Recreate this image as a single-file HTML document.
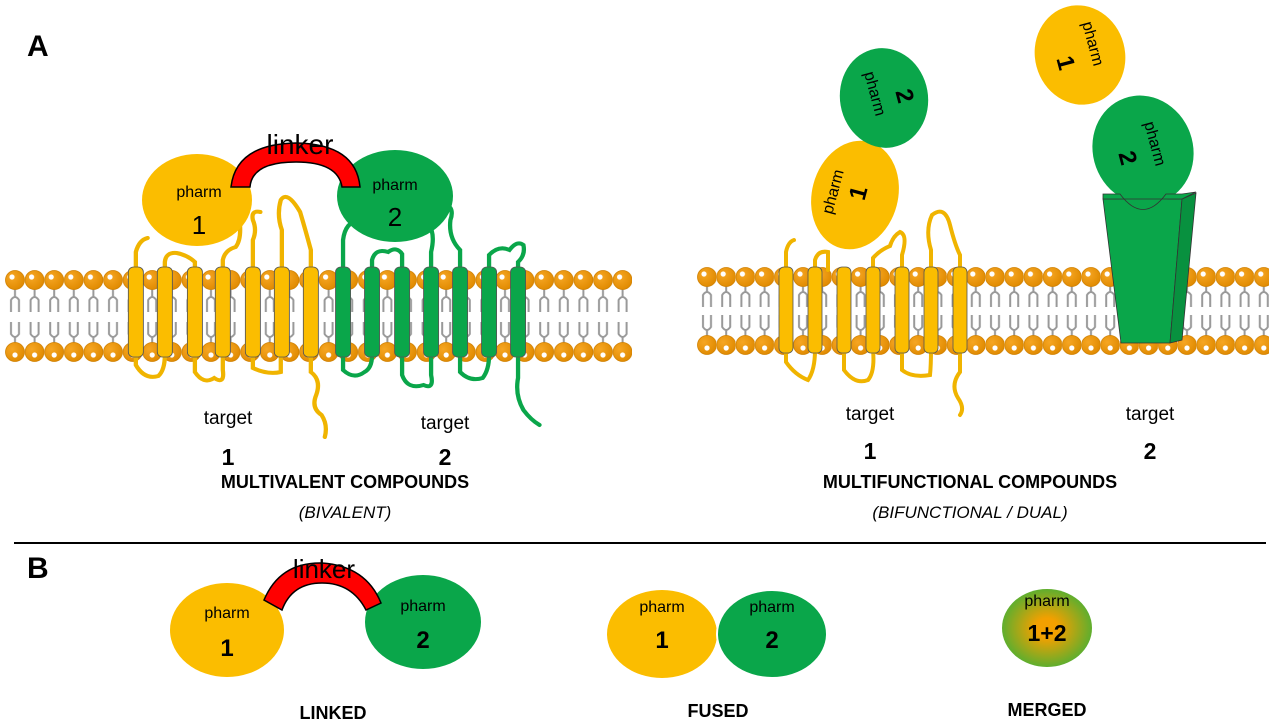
<!DOCTYPE html>
<html><head><meta charset="utf-8"><style>
html,body{margin:0;padding:0;background:#fff;}
svg{display:block;font-family:"Liberation Sans",sans-serif;}
</style></head><body>
<svg width="1273" height="727" viewBox="0 0 1273 727" xmlns="http://www.w3.org/2000/svg">
<defs>
<radialGradient id="ball" cx="0.35" cy="0.35" r="0.7"><stop offset="0" stop-color="#f6a623"/><stop offset="1" stop-color="#e08a00"/></radialGradient>
<pattern id="memL" patternUnits="userSpaceOnUse" x="5" y="268" width="19.6" height="96">
<g fill="none" stroke="#999" stroke-width="2">
<path d="M10 20 V30 M6 44 V32 Q10 26 14 32 V44 M6 54 V66 Q10 72 14 66 V54 M10 68 V76"/>
</g>
<circle cx="10" cy="12" r="9.5" fill="url(#ball)" stroke="#d08000" stroke-width="0.8"/>
<circle cx="7" cy="9" r="2.6" fill="#fff"/>
<circle cx="10" cy="84" r="9.5" fill="url(#ball)" stroke="#d08000" stroke-width="0.8"/>
<circle cx="10" cy="87" r="2.6" fill="#fff"/>
</pattern>
<pattern id="memR" patternUnits="userSpaceOnUse" x="697" y="265" width="19.2" height="92">
<g fill="none" stroke="#999" stroke-width="2">
<path d="M10 20 V28 M6 42 V30 Q10 24 14 30 V42 M6 50 V62 Q10 68 14 62 V50 M10 64 V72"/>
</g>
<circle cx="10" cy="12" r="9.5" fill="url(#ball)" stroke="#d08000" stroke-width="0.8"/>
<circle cx="7" cy="9" r="2.6" fill="#fff"/>
<circle cx="10" cy="80" r="9.5" fill="url(#ball)" stroke="#d08000" stroke-width="0.8"/>
<circle cx="10" cy="83" r="2.6" fill="#fff"/>
</pattern>
<radialGradient id="merge" cx="0.5" cy="0.5" r="0.5"><stop offset="0.25" stop-color="#f3a000"/><stop offset="1" stop-color="#5fae2e"/></radialGradient>
</defs>

<text x="27" y="56" font-size="30" font-weight="bold">A</text>
<text x="27" y="578" font-size="30" font-weight="bold">B</text>
<line x1="14" y1="543" x2="1266" y2="543" stroke="#000" stroke-width="2"/>

<!-- left membrane -->
<rect x="5" y="268" width="627" height="96" fill="url(#memL)"/>
<g transform="matrix(1.0736,0,0,1,-0.5,0)">
<g fill="none" stroke="#f0b400" stroke-width="4" stroke-linecap="round">
<path d="M127 270 V252 Q130 240 138 238"/>
<path d="M154 270 V262 Q155 252 165 253 Q175 255 182 262 V270"/>
<path d="M208 270 V260 Q210 250 220 247 Q225 240 224 225"/>
<path d="M236 270 V240 Q240 230 236 220 Q234 210 243 212"/>
<path d="M263 270 V230 Q258 215 262 200 Q268 190 280 212 Q285 230 290 250 V270"/>
<path d="M127 355 V365 Q135 380 148 376 Q154 370 154 355"/>
<path d="M182 355 V372 Q190 385 200 378 Q210 385 208 370 V355"/>
<path d="M236 355 V368 Q250 375 262 372 V355"/>
<path d="M290 355 V372 Q300 380 295 395 Q290 408 300 415 Q306 425 303 437"/>
</g>
<g fill="none" stroke="#0aa64a" stroke-width="4" stroke-linecap="round">
<path d="M320 270 V240 Q322 222 335 220 Q345 212 350 212"/>
<path d="M347 270 V260 Q350 248 362 252 Q370 246 375 254 V270"/>
<path d="M402 270 V252 Q406 234 400 225 Q392 210 410 202 Q425 205 420 220 Q418 238 429 250 V270"/>
<path d="M456 270 V255 Q465 245 475 250 Q482 240 488 245 Q490 255 483 262 V270"/>
<path d="M320 355 V370 Q330 380 340 372 Q347 368 347 355"/>
<path d="M375 355 V375 Q380 390 395 385 Q405 390 402 375 V355"/>
<path d="M429 355 V372 Q438 382 450 378 Q456 370 456 355"/>
<path d="M483 355 V378 Q480 395 488 410 Q495 420 503 425"/>
</g>
<g stroke="#555" stroke-width="0.8">
<rect x="120" y="267" width="14" height="90" rx="5" fill="#fbbd00"/>
<rect x="147" y="267" width="14" height="90" rx="5" fill="#fbbd00"/>
<rect x="175" y="267" width="14" height="90" rx="5" fill="#fbbd00"/>
<rect x="201" y="267" width="14" height="90" rx="5" fill="#fbbd00"/>
<rect x="229" y="267" width="14" height="90" rx="5" fill="#fbbd00"/>
<rect x="256" y="267" width="14" height="90" rx="5" fill="#fbbd00"/>
<rect x="283" y="267" width="14" height="90" rx="5" fill="#fbbd00"/>
<rect x="313" y="267" width="14" height="90" rx="5" fill="#0aa64a"/>
<rect x="340" y="267" width="14" height="90" rx="5" fill="#0aa64a"/>
<rect x="368" y="267" width="14" height="90" rx="5" fill="#0aa64a"/>
<rect x="395" y="267" width="14" height="90" rx="5" fill="#0aa64a"/>
<rect x="422" y="267" width="14" height="90" rx="5" fill="#0aa64a"/>
<rect x="449" y="267" width="14" height="90" rx="5" fill="#0aa64a"/>
<rect x="476" y="267" width="14" height="90" rx="5" fill="#0aa64a"/>
</g>
</g>
<!-- left pharm + linker -->
<ellipse cx="197" cy="200" rx="55" ry="46" fill="#fbbd00"/>
<ellipse cx="395" cy="196" rx="58" ry="46" fill="#0aa64a"/>
<path d="M231 187 Q236 144 296 143 Q356 144 360 187 L342 187 Q338 162 296 162 Q252 162 250 187 Z" fill="#f00" stroke="#000" stroke-width="1.5"/>
<text x="300" y="154" font-size="28" text-anchor="middle">linker</text>
<text x="199" y="197" font-size="16" text-anchor="middle">pharm</text>
<text x="199" y="234" font-size="26" text-anchor="middle">1</text>
<text x="395" y="190" font-size="16" text-anchor="middle">pharm</text>
<text x="395" y="226" font-size="26" text-anchor="middle">2</text>
<text x="228" y="424" font-size="19" text-anchor="middle">target</text>
<text x="445" y="429" font-size="19" text-anchor="middle">target</text>
<text x="228" y="465" font-size="23" font-weight="bold" text-anchor="middle">1</text>
<text x="445" y="465" font-size="23" font-weight="bold" text-anchor="middle">2</text>
<text x="345" y="488" font-size="18" font-weight="bold" text-anchor="middle">MULTIVALENT COMPOUNDS</text>
<text x="345" y="518" font-size="17" font-style="italic" text-anchor="middle">(BIVALENT)</text>

<!-- right membrane -->
<rect x="697" y="265" width="572" height="92" fill="url(#memR)"/>
<g fill="none" stroke="#f0b400" stroke-width="4" stroke-linecap="round">
<path d="M786 270 V252 Q788 242 794 240"/>
<path d="M815 270 V260 Q818 250 828 252 V270"/>
<path d="M873 270 V258 Q880 250 890 246 Q893 236 900 232 Q908 235 902 255 V270"/>
<path d="M931 270 V250 Q925 230 932 215 Q945 205 950 225 Q955 245 960 255 V270"/>
<path d="M786 350 V362 Q795 375 808 380 Q815 370 815 350"/>
<path d="M844 350 V370 Q855 385 868 380 Q875 372 873 350"/>
<path d="M902 350 V370 Q912 378 930 375 Q931 365 931 350"/>
<path d="M960 350 V372 Q950 385 958 398 Q965 408 960 415"/>
</g>
<g stroke="#555" stroke-width="0.8" fill="#fbbd00">
<rect x="779" y="267" width="14" height="86" rx="5"/>
<rect x="808" y="267" width="14" height="86" rx="5"/>
<rect x="837" y="267" width="14" height="86" rx="5"/>
<rect x="866" y="267" width="14" height="86" rx="5"/>
<rect x="895" y="267" width="14" height="86" rx="5"/>
<rect x="924" y="267" width="14" height="86" rx="5"/>
<rect x="953" y="267" width="14" height="86" rx="5"/>
</g>
<!-- green receptor -->
<polygon points="1103,199 1182,199 1170,343 1121,343" fill="#0aa64a" stroke="#333" stroke-width="0.8"/>
<polygon points="1182,199 1196,193 1182,340 1170,343" fill="#08913f" stroke="#333" stroke-width="0.8"/>
<ellipse cx="1143" cy="150" rx="50" ry="55" transform="rotate(-20 1143 150)" fill="#0aa64a"/>
<path d="M1103 199 L1103 194 L1120 194 Q1143 225 1166 194 L1182 194 L1196 192 L1182 199 Z" fill="#0aa64a" stroke="#333" stroke-width="0.8"/>
<ellipse cx="855" cy="195" rx="44" ry="56" transform="rotate(15 855 195)" fill="#fbbd00" stroke="#fff" stroke-width="2"/>
<ellipse cx="884" cy="98" rx="44" ry="50" transform="rotate(-10 884 98)" fill="#0aa64a"/>
<ellipse cx="1080" cy="55" rx="45" ry="50" transform="rotate(-15 1080 55)" fill="#fbbd00"/>
<text transform="translate(838 193) rotate(-75)" font-size="16" text-anchor="middle">pharm</text>
<text transform="translate(866 195) rotate(-75)" font-size="24" font-weight="bold" text-anchor="middle">1</text>
<text transform="translate(870 95) rotate(75)" font-size="16" text-anchor="middle">pharm</text>
<text transform="translate(897 98) rotate(75)" font-size="24" font-weight="bold" text-anchor="middle">2</text>
<text transform="translate(1088 45) rotate(75)" font-size="16" text-anchor="middle">pharm</text>
<text transform="translate(1058 65) rotate(75)" font-size="24" font-weight="bold" text-anchor="middle">1</text>
<text transform="translate(1150 145) rotate(75)" font-size="16" text-anchor="middle">pharm</text>
<text transform="translate(1120 160) rotate(75)" font-size="24" font-weight="bold" text-anchor="middle">2</text>
<text x="870" y="420" font-size="19" text-anchor="middle">target</text>
<text x="1150" y="420" font-size="19" text-anchor="middle">target</text>
<text x="870" y="459" font-size="23" font-weight="bold" text-anchor="middle">1</text>
<text x="1150" y="459" font-size="23" font-weight="bold" text-anchor="middle">2</text>
<text x="970" y="488" font-size="18" font-weight="bold" text-anchor="middle">MULTIFUNCTIONAL COMPOUNDS</text>
<text x="970" y="518" font-size="17" font-style="italic" text-anchor="middle">(BIFUNCTIONAL / DUAL)</text>

<!-- B -->
<ellipse cx="227" cy="630" rx="57" ry="47" fill="#fbbd00"/>
<ellipse cx="423" cy="622" rx="58" ry="47" fill="#0aa64a"/>
<path d="M264 600 Q280 562 322 563 Q366 566 381 603 L366 610 Q352 583 322 583 Q292 583 282 610 Z" fill="#f00" stroke="#000" stroke-width="1.5"/>
<text x="324" y="578" font-size="26" text-anchor="middle">linker</text>
<text x="227" y="618" font-size="16" text-anchor="middle">pharm</text>
<text x="227" y="656" font-size="24" font-weight="bold" text-anchor="middle">1</text>
<text x="423" y="611" font-size="16" text-anchor="middle">pharm</text>
<text x="423" y="648" font-size="24" font-weight="bold" text-anchor="middle">2</text>
<ellipse cx="662" cy="634" rx="55" ry="44" fill="#fbbd00"/>
<ellipse cx="772" cy="634" rx="55" ry="44" fill="#0aa64a" stroke="#fff" stroke-width="2"/>
<text x="662" y="612" font-size="16" text-anchor="middle">pharm</text>
<text x="662" y="648" font-size="24" font-weight="bold" text-anchor="middle">1</text>
<text x="772" y="612" font-size="16" text-anchor="middle">pharm</text>
<text x="772" y="648" font-size="24" font-weight="bold" text-anchor="middle">2</text>
<ellipse cx="1047" cy="628" rx="45" ry="39" fill="url(#merge)"/>
<text x="1047" y="606" font-size="16" text-anchor="middle">pharm</text>
<text x="1047" y="641" font-size="23" font-weight="bold" text-anchor="middle">1+2</text>
<text x="333" y="719" font-size="18" font-weight="bold" text-anchor="middle">LINKED</text>
<text x="718" y="717" font-size="18" font-weight="bold" text-anchor="middle">FUSED</text>
<text x="1047" y="716" font-size="18" font-weight="bold" text-anchor="middle">MERGED</text>
</svg>
</body></html>
